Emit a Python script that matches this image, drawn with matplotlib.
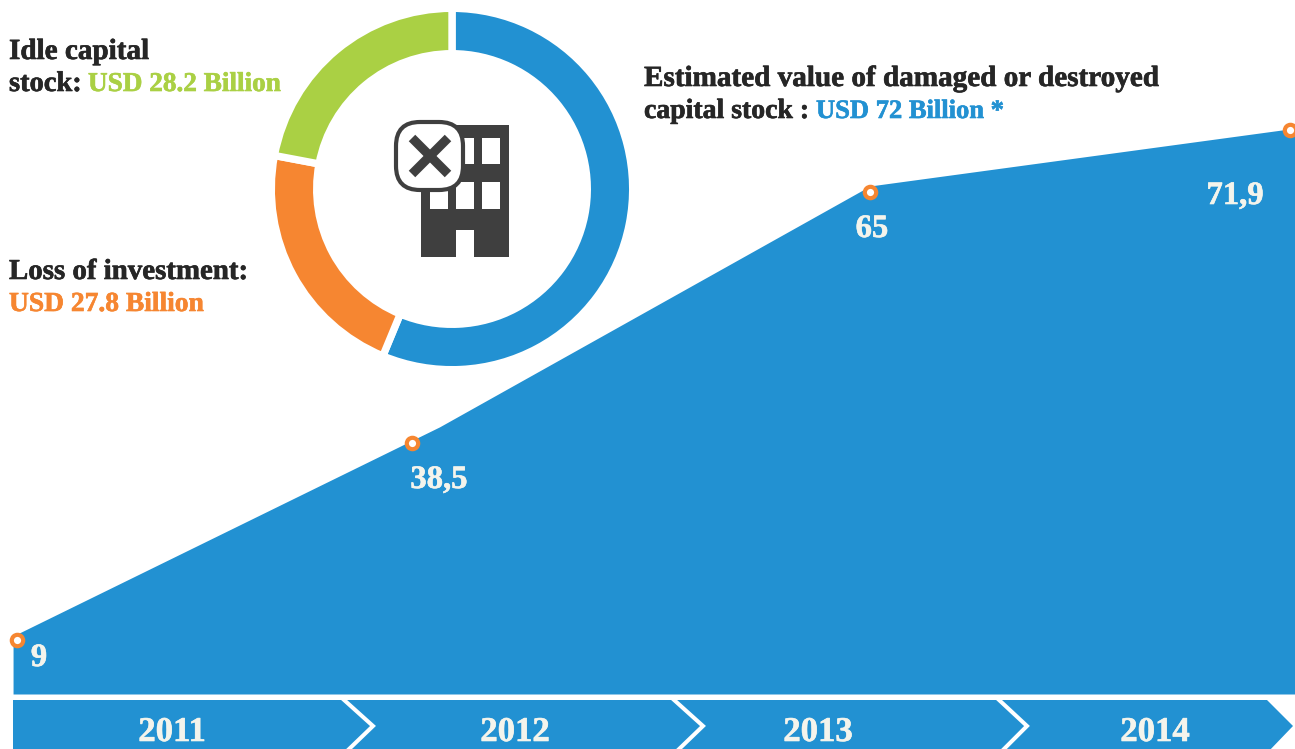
import numpy as np
import matplotlib
matplotlib.use("Agg")
import matplotlib.pyplot as plt
import matplotlib.patheffects as pe
from matplotlib.patches import Rectangle, FancyBboxPatch, Polygon

# ---- data ----
years = [2011, 2012, 2013, 2014]
values = [9, 38.5, 65, 71.9]
value_labels = ["9", "38,5", "65", "71,9"]
year_labels = ["2011", "2012", "2013", "2014"]
area_years = [2010.99, 2012.06, 2013.0, 2014.012]
area_values = [9.6, 40.2, 65.67, 72.1]
donut_values = [72, 27.8, 28.2]

BLUE = "#2291D2"
ORANGE = "#F68631"
GREEN = "#AAD044"
DARK = "#262626"
ICON = "#3F3F3F"
CREAM = "#F4F4EC"
W, H = 1295, 749
FONT = "Liberation Serif"

fig = plt.figure(figsize=(W / 100, H / 100), dpi=100, facecolor="white")

# The source graphic's axes are not uniform: piecewise scales reproduce them.
x_knots = np.array([2010.0, 2011, 2012, 2013, 2014, 2015])
x_pix = np.array([-378.0, 17, 412, 870, 1290, 1710])
y_knots = np.array([-20.0, 0, 9, 38.5, 65, 71.9, 100])
y_pix = np.array([-65.0, 55, 109, 306, 557, 619, 872])

ax = fig.add_axes([0, 0, 1, 1], facecolor="none")
ax.set_xscale("function", functions=(lambda v: np.interp(v, x_knots, x_pix),
                                     lambda p: np.interp(p, x_pix, x_knots)))
ax.set_yscale("function", functions=(lambda v: np.interp(v, y_knots, y_pix),
                                     lambda p: np.interp(p, y_pix, y_knots)))
ax.set_xlim(np.interp(0, x_pix, x_knots), np.interp(W, x_pix, x_knots))
ax.set_ylim(np.interp(0, y_pix, y_knots), np.interp(H, y_pix, y_knots))
ax.axis("off")

ax.fill_between(area_years, area_values, 0, color=BLUE, lw=0, zorder=1)
ax.plot(years, values, ls="none", marker="o", ms=8.2, mew=3.0, mec=ORANGE,
        mfc="white", clip_on=False, zorder=3)

# ---- overlay in pixel coordinates for the graphic's furniture ----
ov = fig.add_axes([0, 0, 1, 1], facecolor="none")
ov.set_xlim(0, W)
ov.set_ylim(H, 0)
ov.axis("off")

# year band with chevrons
ov.add_patch(Polygon([(13, 700), (1267, 700), (1293, 726), (1268, 752), (13, 752)],
                     closed=True, fc=BLUE, ec="none", zorder=1))
for start, tip, end in [(343, 373, 346), (673, 703, 676), (998, 1027, 1001)]:
    ov.plot([start, tip, end], [699, 726, 752], color="white", lw=2.9,
            solid_joinstyle="miter", zorder=2)


def heavy(c, w=0.45):
    return [pe.withStroke(linewidth=w, foreground=c)]


for cx, label in zip([172, 515, 818, 1155], year_labels):
    ov.text(cx, 741, label, color=CREAM, fontsize=25, fontweight="bold",
            family=FONT, ha="center", va="baseline", zorder=3,
            path_effects=heavy(CREAM))

for px, py, label in zip([39, 439, 872, 1235], [666, 488, 237, 204], value_labels):
    ov.text(px, py, label, color=CREAM, fontsize=23.5, fontweight="bold",
            family=FONT, ha="center", va="baseline", zorder=3,
            path_effects=heavy(CREAM))


# annotation text
def t(x, y, s, c, size):
    ov.text(x, y, s, color=c, fontsize=size, fontweight="bold", family=FONT,
            ha="left", va="baseline", zorder=3, path_effects=heavy(c))


t(9, 59, "Idle capital", DARK, 21)
t(9, 91, "stock:", DARK, 20.5)
t(88, 91, "USD 28.2 Billion", GREEN, 19.6)
t(9, 279, "Loss of investment:", DARK, 20.8)
t(9, 311, "USD 27.8 Billion", ORANGE, 19.8)
t(644, 86, "Estimated value of damaged or destroyed", DARK, 21)
t(644, 118, "capital stock :", DARK, 20)
t(816, 118, "USD 72 Billion *", BLUE, 19.1)

# building icon
ov.add_patch(Rectangle((421, 125), 88, 132, fc=ICON, ec="none", zorder=4))
for wx, wy, ww, wh in [(456, 138, 18, 26), (482, 138, 18, 26),
                       (430, 182, 18, 27), (456, 182, 18, 27), (482, 182, 18, 27),
                       (456, 230, 18, 27)]:
    ov.add_patch(Rectangle((wx, wy), ww, wh, fc="white", ec="none", zorder=5))
ov.add_patch(FancyBboxPatch((420, 146), 19, 20, boxstyle="round,pad=24,rounding_size=24",
                            fc="white", ec=ICON, lw=3, zorder=6))
ov.plot([412, 448], [138, 174], color=ICON, lw=6.6, solid_capstyle="butt", zorder=7)
ov.plot([412, 448], [174, 138], color=ICON, lw=6.6, solid_capstyle="butt", zorder=7)

# donut, centred at pixel (452, 189)
half = 195
dax = fig.add_axes([(452 - half) / W, 1 - (189 + half) / H, 2 * half / W, 2 * half / H],
                   facecolor="none")
dax.pie(donut_values, colors=[BLUE, ORANGE, GREEN], startangle=90, counterclock=False,
        radius=180.7, center=(0, 0), frame=False,
        wedgeprops=dict(width=45.4, edgecolor="white", linewidth=5.3))
dax.set_xlim(-half, half)
dax.set_ylim(-half, half)
dax.set_aspect("equal")
dax.axis("off")

fig.savefig("out.png", dpi=100)
